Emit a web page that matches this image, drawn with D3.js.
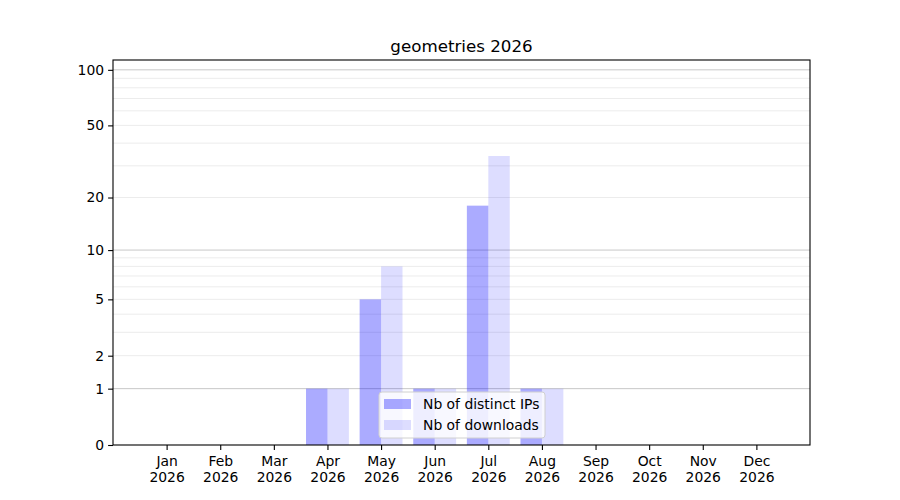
<!DOCTYPE html>
<html lang="en">
<head>
    <meta charset="UTF-8">
    <title> geometries 2026 </title>
    <style>
        body { margin: 0; background: #fff; }
        svg text { font-family: "DejaVu Sans", sans-serif; fill: #000; }
    </style>
</head>
<body>
    <div id="chart"></div>
    <script src="https://cdnjs.cloudflare.com/ajax/libs/d3/7.8.5/d3.min.js"></script>
    <script>
        const months = ['Jan', 'Feb', 'Mar', 'Apr', 'May', 'Jun', 'Jul', 'Aug', 'Sep', 'Oct', 'Nov', 'Dec'];
        const year = '2026';
        const distinctIps = [0, 0, 0, 1, 5, 1, 18, 1, 0, 0, 0, 0];
        const downloads = [0, 0, 0, 1, 8, 1, 34, 1, 0, 0, 0, 0];
        const yTicks = [0, 1, 2, 5, 10, 20, 50, 100];
        const majorGrid = [1, 10, 100];
        const minorGrid = [2, 3, 4, 5, 6, 7, 8, 9, 20, 30, 40, 50, 60, 70, 80, 90];

        const W = 900, H = 500;
        const plotL = 113, plotR = 810, plotT = 60, plotB = 445;

        const svg = d3.select('#chart')
            .append('svg')
            .attr('width', W)
            .attr('height', H);

        // month index -> x, with one empty slot each side
        const x = d3.scaleLinear().domain([-1, 12]).range([plotL, plotR]);
        // log(1 + v) style axis
        const y = d3.scaleSymlog().constant(1).domain([0, 113]).range([plotB, plotT]);
        const bw = 0.4;

        // grid
        svg.append('g')
            .selectAll('line')
            .data(minorGrid)
            .join('line')
            .attr('x1', plotL).attr('x2', plotR)
            .attr('y1', d => y(d)).attr('y2', d => y(d))
            .attr('stroke', '#ececec')
            .attr('stroke-width', 1);

        svg.append('g')
            .selectAll('line')
            .data(majorGrid)
            .join('line')
            .attr('x1', plotL).attr('x2', plotR)
            .attr('y1', d => y(d)).attr('y2', d => y(d))
            .attr('stroke', '#c8c8c8')
            .attr('stroke-width', 1);

        // bars
        svg.append('g')
            .selectAll('rect')
            .data(distinctIps)
            .join('rect')
            .attr('x', (d, i) => x(i - bw))
            .attr('width', x(bw) - x(0))
            .attr('y', d => y(d))
            .attr('height', d => y(0) - y(d))
            .attr('fill', 'blue')
            .attr('fill-opacity', 0.33);

        svg.append('g')
            .selectAll('rect')
            .data(downloads)
            .join('rect')
            .attr('x', (d, i) => x(i))
            .attr('width', x(bw) - x(0))
            .attr('y', d => y(d))
            .attr('height', d => y(0) - y(d))
            .attr('fill', 'blue')
            .attr('fill-opacity', 0.135);

        // axes
        const yAxis = svg.append('g')
            .attr('transform', `translate(${plotL},0)`)
            .call(d3.axisLeft(y).tickValues(yTicks).tickSize(4.9).tickPadding(4).tickFormat(d3.format('d')));

        const xAxis = svg.append('g')
            .attr('transform', `translate(0,${plotB})`)
            .call(d3.axisBottom(x).tickValues(d3.range(12)).tickSize(4.9).tickFormat(''));

        [yAxis, xAxis].forEach(g => {
            g.select('.domain').remove();
            g.selectAll('.tick line').attr('stroke', '#000').attr('stroke-width', 1.1);
        });
        yAxis.selectAll('.tick text').attr('font-size', 13.9).style('font-family', '"DejaVu Sans", sans-serif');

        const xl = xAxis.selectAll('.tick')
            .append('text')
            .attr('text-anchor', 'middle')
            .attr('font-size', 13.9)
            .attr('fill', '#000');
        xl.append('tspan').attr('x', 0).attr('y', 21).text((d) => months[d]);
        xl.append('tspan').attr('x', 0).attr('y', 37).text(year);

        // frame
        svg.append('rect')
            .attr('x', plotL).attr('y', plotT)
            .attr('width', plotR - plotL).attr('height', plotB - plotT)
            .attr('fill', 'none')
            .attr('stroke', '#000')
            .attr('stroke-width', 1.1);

        // title
        svg.append('text')
            .attr('x', (plotL + plotR) / 2)
            .attr('y', 52)
            .attr('text-anchor', 'middle')
            .attr('font-size', 16.7)
            .text('geometries 2026');

        // legend
        const legendItems = [
            { label: 'Nb of distinct IPs', opacity: 0.33 },
            { label: 'Nb of downloads', opacity: 0.135 }
        ];
        const lg = svg.append('g').attr('transform', 'translate(379,392)');
        lg.append('rect')
            .attr('width', 166).attr('height', 46)
            .attr('rx', 3)
            .attr('fill', '#fff').attr('fill-opacity', 0.8)
            .attr('stroke', '#d0d0d0');
        const li = lg.selectAll('g.item')
            .data(legendItems)
            .join('g')
            .attr('class', 'item')
            .attr('transform', (d, i) => `translate(5,${7 + i * 21})`);
        li.append('rect')
            .attr('width', 27).attr('height', 10)
            .attr('fill', 'blue')
            .attr('fill-opacity', d => d.opacity);
        li.append('text')
            .attr('x', 39).attr('y', 10)
            .attr('font-size', 13.9)
            .text(d => d.label);
    </script>
</body>
</html>
